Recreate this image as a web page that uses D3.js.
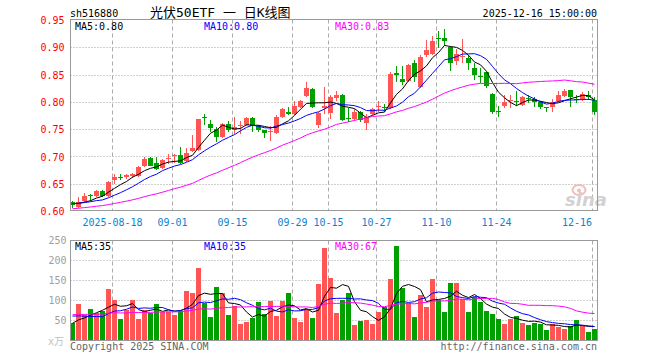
<!DOCTYPE html>
<html>
<head>
<meta charset="utf-8">
<script src="https://cdn.jsdelivr.net/npm/d3@7"></script>
<style>
  html, body { margin: 0; padding: 0; background: #fff; }
  svg { display: block; }
  text { font-family: "DejaVu Sans Mono", monospace; font-size: 10px; }
</style>
</head>
<body>
<div id="chart"></div>
<script>
// ---- data ----
const dates = [
  "08-07","08-08","08-11","08-12","08-13","08-14","08-15","08-18","08-19","08-20","08-21","08-22","08-25","08-26","08-27","08-28","08-29",
  "09-01","09-02","09-03","09-04","09-05","09-08","09-09","09-10","09-11","09-12","09-15","09-16","09-17","09-18","09-19","09-22","09-23","09-24","09-25","09-26","09-29","09-30",
  "10-09","10-10","10-13","10-14","10-15","10-16","10-17","10-20","10-21","10-22","10-23","10-24","10-27","10-28","10-29","10-30","10-31",
  "11-03","11-04","11-05","11-06","11-07","11-10","11-11","11-12","11-13","11-14","11-17","11-18","11-19","11-20","11-21","11-24","11-25","11-26","11-27","11-28",
  "12-01","12-02","12-03","12-04","12-05","12-08","12-09","12-10","12-11","12-12","12-15","12-16"
];
const opens = [
  0.617,0.608,0.619,0.631,0.628,0.638,0.628,0.658,0.664,0.663,0.665,0.665,0.684,0.698,0.689,0.679,0.696,0.702,0.704,0.692,
  0.711,0.712,0.773,0.760,0.752,0.736,0.761,0.750,0.756,0.759,0.772,0.756,0.749,0.745,0.744,0.774,0.783,0.779,0.792,0.811,
  0.824,0.759,0.789,0.780,0.808,0.813,0.772,0.770,0.782,0.762,0.779,0.791,0.791,0.790,0.853,0.843,0.840,0.872,0.828,0.886,
  0.888,0.918,0.918,0.901,0.876,0.883,0.882,0.863,0.849,0.855,0.815,0.785,0.794,0.802,0.803,0.796,0.808,0.807,0.800,0.792,
  0.791,0.802,0.811,0.822,0.806,0.807,0.814,0.805
];
const highs = [
  0.620,0.626,0.634,0.632,0.639,0.640,0.656,0.668,0.668,0.668,0.670,0.683,0.699,0.700,0.700,0.697,0.706,0.706,0.719,0.717,
  0.741,0.770,0.779,0.767,0.755,0.763,0.765,0.774,0.766,0.773,0.774,0.758,0.750,0.756,0.776,0.790,0.792,0.803,0.805,0.838,
  0.826,0.782,0.829,0.813,0.820,0.815,0.790,0.787,0.785,0.778,0.790,0.802,0.797,0.855,0.866,0.867,0.871,0.878,0.886,0.915,
  0.921,0.930,0.934,0.903,0.898,0.916,0.887,0.872,0.863,0.856,0.817,0.793,0.813,0.813,0.820,0.812,0.813,0.810,0.803,0.792,
  0.807,0.820,0.824,0.822,0.813,0.819,0.820,0.810
];
const lows = [
  0.606,0.606,0.618,0.620,0.626,0.627,0.626,0.651,0.657,0.660,0.662,0.663,0.682,0.683,0.676,0.677,0.687,0.689,0.687,0.690,
  0.709,0.710,0.758,0.745,0.727,0.734,0.745,0.742,0.742,0.757,0.745,0.745,0.735,0.729,0.742,0.772,0.776,0.777,0.790,0.809,
  0.790,0.753,0.779,0.770,0.803,0.765,0.764,0.765,0.764,0.750,0.777,0.782,0.782,0.788,0.838,0.831,0.838,0.838,0.826,0.884,
  0.886,0.899,0.904,0.857,0.869,0.872,0.860,0.841,0.835,0.827,0.779,0.773,0.790,0.789,0.794,0.794,0.798,0.792,0.788,0.782,
  0.782,0.800,0.810,0.792,0.799,0.802,0.805,0.776
];
const closes = [
  0.612,0.617,0.629,0.628,0.637,0.629,0.654,0.664,0.662,0.666,0.668,0.681,0.697,0.684,0.678,0.695,0.698,0.704,0.689,0.708,
  0.716,0.769,0.771,0.753,0.737,0.761,0.750,0.755,0.758,0.771,0.756,0.750,0.744,0.747,0.774,0.788,0.778,0.794,0.803,0.827,
  0.792,0.780,0.794,0.810,0.814,0.767,0.770,0.782,0.768,0.773,0.788,0.793,0.789,0.852,0.851,0.838,0.869,0.847,0.884,0.896,
  0.913,0.916,0.913,0.873,0.889,0.885,0.872,0.851,0.847,0.830,0.782,0.783,0.800,0.804,0.801,0.810,0.806,0.801,0.792,0.789,
  0.800,0.814,0.820,0.810,0.804,0.816,0.810,0.782
];
// volume, 万
const volumes = [
  43,91,64,79,70,74,129,101,54,76,101,54,77,70,91,72,72,63,74,124,
  119,181,94,59,134,119,64,86,41,46,56,96,66,99,61,99,119,56,46,79,
  56,141,231,156,70,101,119,39,49,51,41,71,84,154,236,132,94,59,115,84,
  154,101,71,145,145,104,71,110,96,74,66,54,41,54,61,44,39,44,42,27,
  42,34,30,36,52,36,22,29
];
// sessions before the window, only used to warm up the moving averages
const priorCloses = [
  0.590,0.592,0.595,0.593,0.597,0.600,0.598,0.602,0.600,0.598,0.601,0.603,0.600,0.604,0.606,
  0.603,0.605,0.607,0.604,0.608,0.612,0.615,0.613,0.617,0.616,0.614,0.618,0.615,0.613
];
const priorVolumes = [
  60,72,55,68,80,62,58,70,75,64,59,66,71,63,68,57,74,62,69,67,85,72,90,68,80,48,40,45,39
];
const tickDates = ["08-18","09-01","09-15","09-29","10-15","10-27","11-10","11-24","12-16"];
const tickLabels = ["2025-08-18","09-01","09-15","09-29","10-15","10-27","11-10","11-24","12-16"];
const priceTicks = [0.60,0.65,0.70,0.75,0.80,0.85,0.90,0.95];
const volTicks = [50,100,150,200,250];
const maPeriods = [5,10,30];
const maColors = ["#000000","#0000ff","#ff00ff"];

// ---- layout ----
const W = 660, H = 360;
const left = 70.5, right = 597.5;
const up = "#ff5555", down = "#00a000";

const svg = d3.select("#chart").append("svg").attr("width", W).attr("height", H);

const x = d3.scaleBand().domain(dates).range([70, 598]);
const y = d3.scaleLinear().domain([0.6, 0.95]).range([211.5, 20.5]);
const yv = d3.scaleLinear().domain([0, 250]).range([340.5, 240.5]);
const cx = d => x(d) + 2.5;

function movingAvg(prior, vals, n) {
  const all = prior.concat(vals);
  return vals.map((v, i) => d3.mean(all.slice(i + prior.length - n + 1, i + prior.length + 1)));
}
const priceMA = maPeriods.map(n => movingAvg(priorCloses, closes, n));
const volMA = maPeriods.map(n => movingAvg(priorVolumes, volumes, n));

const candles = dates.map((d, i) => ({date: d, o: opens[i], h: highs[i], l: lows[i], c: closes[i], v: volumes[i]}));

// ---- header ----
svg.append("text").attr("x", 70).attr("y", 16.5).text("sh516880");
svg.append("text").attr("x", 150).attr("y", 16.5)
  .style("font-family", "'DejaVu Sans Mono','Noto Sans CJK SC',monospace")
  .style("font-size", "13px")
  .text("光伏50ETF 一 日K线图");
svg.append("text").attr("x", 597).attr("y", 16.5).attr("text-anchor", "end").text("2025-12-16 15:00:00");

// ---- grids ----
function drawGrid(y0, y1, hTicks, yScale) {
  const g = svg.append("g");
  g.selectAll(".h").data(hTicks).enter().append("line")
    .attr("x1", left).attr("x2", right)
    .attr("y1", d => Math.floor(yScale(d)) + 0.5).attr("y2", d => Math.floor(yScale(d)) + 0.5)
    .attr("stroke", "#a0a0a0").attr("stroke-dasharray", "1,2");
  g.selectAll(".v").data(tickDates).enter().append("line")
    .attr("x1", d => x(d) + 0.5).attr("x2", d => x(d) + 0.5)
    .attr("y1", y0).attr("y2", y1)
    .attr("stroke", "#aaaaaa").attr("stroke-dasharray", "4,3");
}
drawGrid(19.5, 210.5, [0.65,0.70,0.75,0.80,0.85,0.90], y);
drawGrid(240.5, 340.5, [50,100,150,200], yv);

// watermark
const wm = svg.append("g");
wm.append("ellipse").attr("cx", 579).attr("cy", 190).attr("rx", 6.5).attr("ry", 5)
  .attr("fill", "none").attr("stroke", "#f3bcbc").attr("stroke-width", 2);
wm.append("circle").attr("cx", 579).attr("cy", 190.5).attr("r", 2).attr("fill", "#f3bcbc");
wm.append("text").attr("x", 565).attr("y", 206)
  .style("font-family", "'DejaVu Sans',sans-serif").style("font-size", "18px")
  .style("font-style", "italic").style("font-weight", "bold")
  .attr("fill", "#d2d2d2").text("sina");

// ---- candles ----
svg.append("clipPath").attr("id", "pclip").append("rect")
  .attr("x", left).attr("y", 19.5).attr("width", right - left).attr("height", 191);
const pg = svg.append("g").attr("clip-path", "url(#pclip)");

pg.selectAll(".wick").data(candles).enter().append("line")
  .attr("x1", d => cx(d.date)).attr("x2", d => cx(d.date))
  .attr("y1", d => Math.round(y(d.h))).attr("y2", d => Math.round(y(d.l)))
  .attr("stroke", d => d.c >= d.o ? up : down).attr("stroke-width", 1);

pg.selectAll(".body").data(candles).enter().append("rect")
  .attr("x", d => x(d.date))
  .attr("width", 5)
  .attr("y", d => Math.round(y(Math.max(d.o, d.c))))
  .attr("height", d => Math.max(1, Math.round(y(Math.min(d.o, d.c))) - Math.round(y(Math.max(d.o, d.c)))))
  .attr("fill", d => d.c >= d.o ? up : down);

maPeriods.forEach((n, k) => {
  pg.append("path")
    .datum(priceMA[k])
    .attr("fill", "none").attr("stroke", maColors[k]).attr("stroke-width", 1)
    .attr("d", d3.line().x((v, i) => cx(dates[i])).y(v => y(v)));
});

// ---- volume ----
svg.selectAll(".vbar").data(candles).enter().append("rect")
  .attr("x", d => x(d.date)).attr("width", 5)
  .attr("y", d => Math.round(yv(d.v)))
  .attr("height", d => 340 - Math.round(yv(d.v)))
  .attr("fill", d => d.c >= d.o ? up : down);

maPeriods.forEach((n, k) => {
  svg.append("path")
    .datum(volMA[k])
    .attr("fill", "none").attr("stroke", maColors[k]).attr("stroke-width", 1)
    .attr("d", d3.line().x((v, i) => cx(dates[i])).y(v => yv(v)));
});

// ---- frames ----
svg.append("rect").attr("x", left).attr("y", 19.5).attr("width", right - left).attr("height", 191)
  .attr("fill", "none").attr("stroke", "#999");
svg.append("rect").attr("x", left).attr("y", 240.5).attr("width", right - left).attr("height", 100)
  .attr("fill", "none").attr("stroke", "#999");

// ---- axes labels ----
const yAxis = d3.axisLeft(y).tickValues(priceTicks).tickFormat(d3.format(".2f")).tickSize(0).tickPadding(6);
const ya = svg.append("g").attr("transform", `translate(${left},0)`).call(yAxis);
ya.select(".domain").remove();
ya.selectAll("text").attr("fill", "#ff0000").style("font-size", "10px").style("font-family", "'DejaVu Sans Mono',monospace");

const yvAxis = d3.axisLeft(yv).tickValues(volTicks).tickSize(0).tickPadding(4);
const yva = svg.append("g").attr("transform", `translate(${left},0)`).call(yvAxis);
yva.select(".domain").remove();
yva.selectAll("text").attr("fill", "#a0a0a0").style("font-size", "10px").style("font-family", "'DejaVu Sans Mono',monospace");
svg.append("text").attr("x", 64).attr("y", 345).attr("text-anchor", "end")
  .style("font-family", "'DejaVu Sans Mono','Noto Sans CJK SC',monospace")
  .attr("fill", "#c0c0c0").text("x万");

svg.selectAll(".xl").data(tickDates).enter().append("text")
  .attr("x", (d, i) => x(d) + 0.5 + tickLabels[i].length * 3 > right ? x(d) : x(d) + 0.5)
  .attr("text-anchor", (d, i) => x(d) + 0.5 + tickLabels[i].length * 3 > right ? "end" : "middle")
  .attr("y", 225.5).attr("fill", "#0a84d0")
  .text((d, i) => tickLabels[i]);

// ---- MA legends ----
const fmtP = d3.format(".2f"), fmtV = d3.format(".0f");
const legX = [75, 204, 335];
maPeriods.forEach((n, k) => {
  svg.append("text").attr("x", legX[k]).attr("y", 29.5).attr("fill", maColors[k])
    .text(`MA${n}:${fmtP(priceMA[k][priceMA[k].length - 1])}`);
  svg.append("text").attr("x", legX[k]).attr("y", 250).attr("fill", maColors[k])
    .text(`MA${n}:${fmtV(volMA[k][volMA[k].length - 1])}`);
});

// ---- footer ----
svg.append("text").attr("x", 70).attr("y", 349.5).attr("fill", "#666").text("Copyright 2025 SINA.COM");
svg.append("text").attr("x", 597).attr("y", 349.5).attr("text-anchor", "end").attr("fill", "#666").text("http://finance.sina.com.cn");
</script>
</body>
</html>
